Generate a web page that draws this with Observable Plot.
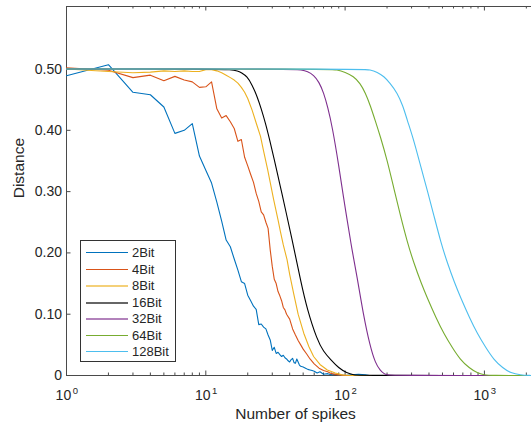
<!DOCTYPE html>
<html>
<head>
<meta charset="utf-8">
<script src="https://cdn.jsdelivr.net/npm/d3@7"></script>
<script src="https://cdn.jsdelivr.net/npm/@observablehq/plot@0.6"></script>
<style>
html,body{margin:0;padding:0;background:#fff;}
#wrap{position:relative;width:531px;height:427px;overflow:hidden;font-family:"Liberation Sans",Arial,Helvetica,sans-serif;}
#legend{position:absolute;left:80px;top:240px;width:96px;height:122px;border:1px solid #333;background:#fff;box-sizing:border-box;}
.row{position:absolute;left:0;width:94px;height:16px;}
.sw{position:absolute;left:5px;width:42px;top:7px;height:0;}
.lab{position:absolute;left:51px;top:0;font-size:13px;line-height:16px;color:#262626;white-space:nowrap;}
</style>
</head>
<body>
<div id="wrap"><div id="chart"></div><div id="legend"></div></div>
<script>
// ---- data ----
const series = ["2Bit","4Bit","8Bit","16Bit","32Bit","64Bit","128Bit"];
const colors = ["#0072BD","#D95319","#EDB120","#000000","#7E2F8E","#77AC30","#4DBEEE"];

const n2 = [1,2,3,4,5,6,7,8,9,10,11,12,13,14,15,16,17,18,19,20,21,22,23,24,25,26,27,28,29,30,31,32,33,34,35,36,37,38,39,40,41,42,43,44,45,46,47,48,50,52,54,56,58,60,63,66,70,75,80,85,90,100,110,125,140,150,2178];
const d2 = [0.489,0.507,0.462,0.458,0.438,0.395,0.400,0.411,0.358,0.335,0.314,0.283,0.252,0.221,0.210,0.190,0.172,0.153,0.150,0.131,0.122,0.113,0.108,0.083,0.084,0.079,0.076,0.066,0.058,0.041,0.046,0.036,0.038,0.034,0.031,0.033,0.029,0.027,0.024,0.022,0.026,0.028,0.021,0.020,0.027,0.022,0.017,0.015,0.014,0.012,0.010,0.009,0.008,0.007,0.004,0.006,0.002,0.003,0.001,0.002,0.001,0.000,0.001,0.002,0.001,0,0];

const n4 = [1,2,3,4,5,6,7,8,9,10,11,12,13,14,15,16,17,18,19,20,21,22,23,24,25,26,27,28,29,30,31,32,33,34,35,36,37,38,40,42,44,46,48,50,53,56,60,65,70,75,80,90,100,2178];
const d4 = [0.502,0.498,0.486,0.490,0.481,0.488,0.482,0.479,0.470,0.471,0.479,0.435,0.420,0.424,0.414,0.403,0.382,0.385,0.356,0.342,0.328,0.315,0.297,0.284,0.267,0.262,0.250,0.240,0.205,0.178,0.157,0.150,0.137,0.130,0.122,0.111,0.107,0.100,0.092,0.076,0.066,0.057,0.050,0.043,0.035,0.027,0.019,0.012,0.008,0.006,0.003,0.001,0,0];

const n8 = [1,2,3,4,5,6,7,8,9,10,11,12,13,14,15,16,17,18,19,20,21.5,23,24.7,26,27.8,29,30.7,33,34.3,36,38.3,40,42.7,46,50.5,55,59.4,66,74.5,85,95,110,2178];
const d8 = [0.500,0.496,0.494,0.495,0.497,0.496,0.497,0.496,0.496,0.499,0.499,0.497,0.494,0.490,0.486,0.482,0.477,0.470,0.462,0.452,0.433,0.412,0.390,0.366,0.336,0.315,0.287,0.254,0.235,0.213,0.189,0.165,0.134,0.100,0.069,0.047,0.031,0.018,0.009,0.004,0.001,0,0];

const n16 = [1,12,15,17,18,19.8,21.5,23.4,25,26.8,28.7,30.7,34.3,37.4,42.7,47.8,53.5,63,70,78.6,90,103,115,130,2178];
const d16 = [0.5,0.5,0.499,0.497,0.494,0.488,0.474,0.455,0.435,0.412,0.385,0.357,0.308,0.270,0.210,0.156,0.107,0.058,0.039,0.026,0.012,0.004,0.001,0,0];

const n32 = [1,44,48,54,59.4,65,70.2,75,80.9,90.3,97.9,103.4,112,122,135,151,165,179,190,200,215,2178];
const d32 = [0.5,0.5,0.499,0.496,0.490,0.479,0.461,0.438,0.406,0.341,0.287,0.254,0.205,0.161,0.100,0.048,0.020,0.008,0.003,0.001,0,0];

const n64 = [1,75,87.7,100,115,128,140,152,165,179,200,224,250,280,312,350,388,450,512,590,670,780,890,1000,1100,2178];
const d64 = [0.5,0.5,0.499,0.495,0.488,0.477,0.461,0.440,0.415,0.390,0.352,0.305,0.260,0.217,0.183,0.152,0.127,0.094,0.068,0.045,0.026,0.012,0.004,0.001,0,0];

const n128 = [1,130,152,170,190,210,237,260,279,305,329,360,388,435,487,543,609,675,783,891,1027,1166,1357,1549,1800,2178];
const d128 = [0.5,0.5,0.499,0.495,0.488,0.477,0.461,0.440,0.417,0.390,0.363,0.330,0.303,0.260,0.217,0.183,0.152,0.127,0.094,0.068,0.045,0.026,0.012,0.004,0.001,0];

const xMajor = [1,10,100,1000];
const yTicks = [0,0.1,0.2,0.3,0.4,0.5];
const xLabel = "Number of spikes";
const yLabel = "Distance";

// ---- build ----
const nAll = [n2,n4,n8,n16,n32,n64,n128];
const dAll = [d2,d4,d8,d16,d32,d64,d128];
const smooth = [false,false,false,true,true,true,true];
const xMax = 2178, yMax = 0.602;
const W = 531, H = 427, mL = 66, mR = 0, mT = 6, mB = 52;
const plotW = W - mL - mR, plotH = H - mT - mB;
const AX = "#4a4a4a", TXT = "#262626";
const FONT = "Liberation Sans, Arial, Helvetica, sans-serif";

const xMinor = [];
for (const dec of xMajor) for (let k = 2; k <= 9; k++) if (dec * k <= xMax) xMinor.push(dec * k);

const lineMarks = series.map((s, i) => {
  const rows = nAll[i].map((n, j) => ({s, n, d: dAll[i][j]}));
  return Plot.line(rows, {x: "n", y: "d", stroke: "s", strokeWidth: 1.1, curve: smooth[i] ? "basis" : "linear"});
});

const fmtY = d => d === 0 ? "0" : d.toFixed(2);

const chart = Plot.plot({
  width: W, height: H,
  marginLeft: mL, marginRight: mR, marginTop: mT, marginBottom: mB,
  style: {fontFamily: FONT, fontSize: "14px", color: TXT, background: "transparent", overflow: "visible"},
  x: {type: "log", domain: [1, xMax], axis: null},
  y: {domain: [0, yMax], axis: null},
  color: {domain: series, range: colors},
  marks: [
    Plot.ruleX(xMajor, {x: d => d, insetTop: plotH - 4.5, stroke: AX}),
    Plot.ruleX(xMinor, {x: d => d, insetTop: plotH - 2.5, stroke: AX}),
    Plot.ruleX(xMajor, {x: d => d, insetBottom: plotH - 4.5, stroke: AX}),
    Plot.ruleX(xMinor, {x: d => d, insetBottom: plotH - 2.5, stroke: AX}),
    Plot.ruleY(yTicks, {y: d => d, insetRight: plotW - 4.5, stroke: AX}),
    Plot.ruleX([1], {stroke: AX}),
    Plot.ruleY([yMax], {stroke: AX}),
    Plot.ruleY([0], {stroke: AX}),
    ...lineMarks,
    Plot.text(yTicks, {y: d => d, frameAnchor: "left", textAnchor: "end", dx: -4.5, text: fmtY, fill: TXT, fontSize: 14}),
    Plot.text(xMajor, {x: d => d, frameAnchor: "bottom", textAnchor: "end", lineAnchor: "bottom", dx: 4.7, dy: 24.5, text: () => "10", fill: TXT, fontSize: 14}),
    Plot.text(xMajor, {x: d => d, frameAnchor: "bottom", textAnchor: "start", lineAnchor: "bottom", dx: 6.3, dy: 18, text: d => String(Math.round(Math.log10(d))), fill: TXT, fontSize: 9.5}),
    Plot.text([xLabel], {text: d => d, frameAnchor: "bottom", lineAnchor: "bottom", dx: -3.5, dy: 43.3, fill: TXT, fontSize: 15.5}),
    Plot.text([yLabel], {text: d => d, frameAnchor: "left", rotate: -90, lineAnchor: "bottom", dx: -42.5, dy: 7.3, fill: TXT, fontSize: 15.5})
  ]
});
document.getElementById("chart").appendChild(chart);

// ---- legend ----
const legend = document.getElementById("legend");
const soft = [false,false,true,true,true,false,false];
series.forEach((s, i) => {
  const row = document.createElement("div");
  row.className = "row";
  row.style.top = Math.round(4 + i * 16.55) + "px";
  const sw = document.createElement("div");
  sw.className = "sw";
  sw.style.borderTop = (soft[i] ? "2px" : "1px") + " solid " + colors[i];
  if (soft[i]) { sw.style.opacity = "0.6"; }
  const lab = document.createElement("div");
  lab.className = "lab";
  lab.textContent = s;
  row.appendChild(sw); row.appendChild(lab);
  legend.appendChild(row);
});
</script>
</body>
</html>
